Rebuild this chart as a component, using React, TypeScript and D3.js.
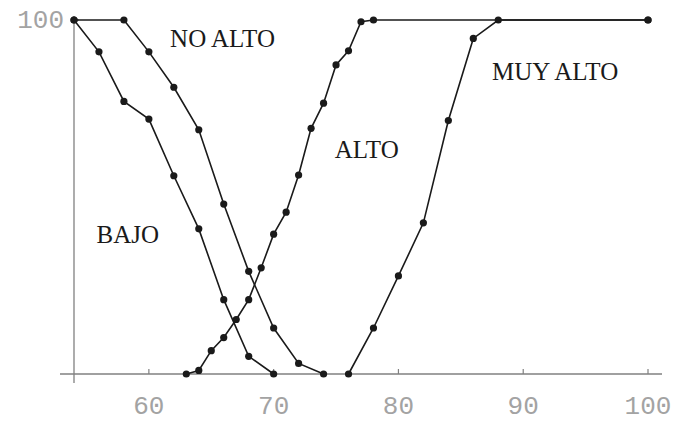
import React from "react";
import * as d3 from "d3";

const bajoX = [54, 56, 58, 60, 62, 64, 66, 68, 70];
const bajoY = [100, 91, 77, 72, 56, 41, 21, 5, 0];
const noAltoX = [54, 58, 60, 62, 64, 66, 68, 70, 72, 74];
const noAltoY = [100, 100, 91, 81, 69, 48, 29, 13, 3, 0];
const altoX = [63, 64, 65, 66, 67, 68, 69, 70, 71, 72, 73, 74, 75, 76, 77, 78, 100];
const altoY = [0, 1, 6.6, 10.3, 15.4, 21, 30, 39.5, 45.7, 56.2, 69.4, 76.5, 87.3, 91.3, 99.5, 100, 100];
const muyAltoX = [76, 78, 80, 82, 84, 86, 88, 100];
const muyAltoY = [0, 13, 27.7, 42.7, 71.6, 94.8, 100, 100];
const xTicks = [60, 70, 80, 90, 100];
const yTicks = [100];
const seriesLabels = [
  { text: "NO ALTO", x: 61.7, y: 92.4 },
  { text: "MUY ALTO", x: 87.5, y: 83 },
  { text: "ALTO", x: 74.9, y: 61 },
  { text: "BAJO", x: 55.8, y: 37 },
];

const W = 673;
const H = 421;

export default function App() {
  const x = d3.scaleLinear().domain([54, 100]).range([74, 648]);
  const y = d3.scaleLinear().domain([0, 100]).range([374, 20]);
  const line = d3
    .line<[number, number]>()
    .x((d) => x(d[0]))
    .y((d) => y(d[1]));
  const series = [
    { xs: bajoX, ys: bajoY },
    { xs: noAltoX, ys: noAltoY },
    { xs: altoX, ys: altoY },
    { xs: muyAltoX, ys: muyAltoY },
  ].map((s) => s.xs.map((v, i) => [v, s.ys[i]] as [number, number]));
  const axisColor = "#808080";
  return (
    <svg
      width={W}
      height={H}
      style={{ position: "absolute", left: 0, top: 0, background: "#fff" }}
    >
      <line x1={60} x2={662} y1={y(0)} y2={y(0)} stroke={axisColor} strokeWidth={1.3} />
      <line x1={x(54)} x2={x(54)} y1={16} y2={383} stroke={axisColor} strokeWidth={1.3} />
      {xTicks.map((t) => (
        <g key={t}>
          <line x1={x(t)} x2={x(t)} y1={y(0)} y2={y(0) - 5} stroke={axisColor} strokeWidth={1.2} />
          <text
            x={x(t)}
            y={414}
            textAnchor="middle"
            fontFamily="Liberation Mono, monospace"
            fontSize={26}
            fill="#a3a3a3"
          >
            {t}
          </text>
        </g>
      ))}
      {yTicks.map((t) => (
        <g key={t}>
          <line x1={x(54)} x2={x(54) + 5} y1={y(t)} y2={y(t)} stroke={axisColor} strokeWidth={1.2} />
          <text
            x={64}
            y={y(t) + 8}
            textAnchor="end"
            fontFamily="Liberation Mono, monospace"
            fontSize={26}
            fill="#a3a3a3"
          >
            {t}
          </text>
        </g>
      ))}
      {series.map((pts, i) => (
        <g key={i}>
          <path d={line(pts) || ""} fill="none" stroke="#1a1a1a" strokeWidth={1.6} />
          {pts.map((p, j) => (
            <circle key={j} cx={x(p[0])} cy={y(p[1])} r={3.6} fill="#1a1a1a" />
          ))}
        </g>
      ))}
      {seriesLabels.map((l) => (
        <text
          key={l.text}
          x={x(l.x)}
          y={y(l.y)}
          fontFamily="Liberation Serif, serif"
          fontSize={25}
          fill="#1a1a1a"
        >
          {l.text}
        </text>
      ))}
    </svg>
  );
}
